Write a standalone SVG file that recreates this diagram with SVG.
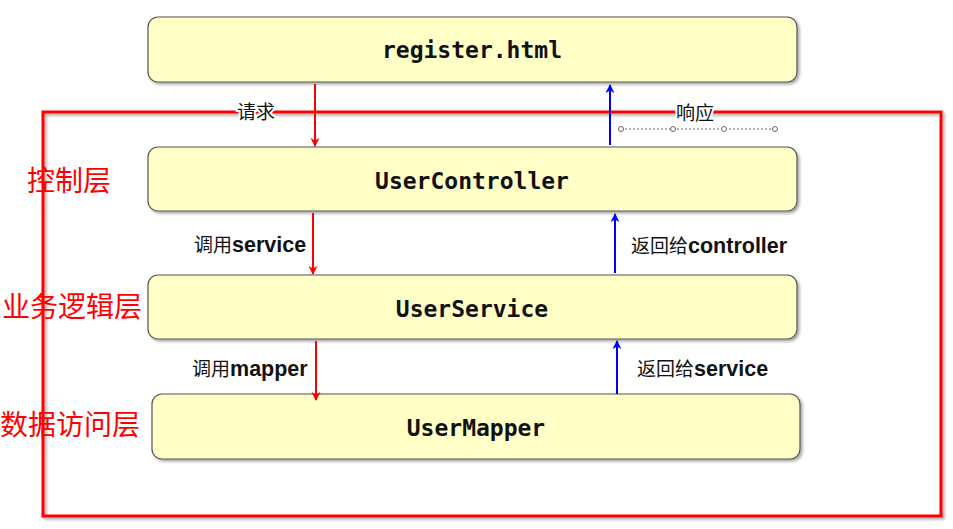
<svg xmlns="http://www.w3.org/2000/svg" width="953" height="529" viewBox="0 0 953 529">
<defs>
<filter id="sh" x="-5%" y="-5%" width="110%" height="120%">
<feGaussianBlur in="SourceAlpha" stdDeviation="1.5"/>
<feOffset dx="2" dy="2" result="b"/>
<feComponentTransfer><feFuncA type="linear" slope="0.35"/></feComponentTransfer>
<feMerge><feMergeNode/><feMergeNode in="SourceGraphic"/></feMerge>
</filter>
<marker id="ar" markerWidth="9" markerHeight="12" refX="9" refY="5" orient="auto" markerUnits="userSpaceOnUse" viewBox="0 0 10 10">
<path d="M0,0 L10,5 L0,10 L3,5 z" fill="#ff0000"/>
</marker>
<marker id="ab" markerWidth="9" markerHeight="12" refX="9" refY="5" orient="auto" markerUnits="userSpaceOnUse" viewBox="0 0 10 10">
<path d="M0,0 L10,5 L0,10 L3,5 z" fill="#0000ff"/>
</marker>
<style>
.box{fill:#ffffc6;stroke:#555;stroke-width:1.2;}
.nt{font-family:"DejaVu Sans Mono","Liberation Mono",monospace;font-size:23px;font-weight:bold;fill:#111;text-anchor:middle;}
.lay{font-family:"Noto Sans CJK SC",sans-serif;font-size:28px;fill:#ff0000;}
.lb{font-family:"Liberation Sans","Noto Sans CJK SC",sans-serif;font-size:21.5px;font-weight:bold;fill:#111;}
.cj{font-family:"Noto Sans CJK SC",sans-serif;font-weight:normal;font-size:19px;}
.rl{stroke:#ff0000;stroke-width:2;fill:none;}
.bl{stroke:#0000ff;stroke-width:2;fill:none;}
.halo{stroke:#fff;stroke-width:4;paint-order:stroke;}
</style>
</defs>
<rect x="0" y="0" width="953" height="529" fill="#ffffff"/>
<g id="frame">
<rect x="43" y="112" width="898" height="404" fill="none" stroke="#ff0000" stroke-width="3" filter="url(#sh)"/>
</g>
<g id="layers">
<text class="lay" x="27" y="191">控制层</text>
<text class="lay" x="2" y="317">业务逻辑层</text>
<text class="lay" x="0" y="435">数据访问层</text>
</g>
<g id="register">
<rect class="box" x="148" y="17" width="649" height="65" rx="10" filter="url(#sh)"/>
<text class="nt" x="472" y="58">register.html</text>
</g>
<g id="controller">
<rect class="box" x="148" y="147" width="649" height="64" rx="10" filter="url(#sh)"/>
<text class="nt" x="472" y="189">UserController</text>
</g>
<g id="service">
<rect class="box" x="148" y="275" width="649" height="64" rx="10" filter="url(#sh)"/>
<text class="nt" x="472" y="317">UserService</text>
</g>
<g id="mapper">
<rect class="box" x="152" y="394" width="648" height="65" rx="10" filter="url(#sh)"/>
<text class="nt" x="476" y="436">UserMapper</text>
</g>
<g id="connectors">
<line class="rl" x1="315" y1="84" x2="315" y2="146" marker-end="url(#ar)"/>
<line class="bl" x1="610" y1="145" x2="610" y2="85" marker-end="url(#ab)"/>
<line class="rl" x1="313" y1="213" x2="313" y2="274" marker-end="url(#ar)"/>
<line class="bl" x1="615" y1="273" x2="615" y2="214" marker-end="url(#ab)"/>
<line class="rl" x1="316" y1="341" x2="316" y2="400" marker-end="url(#ar)"/>
<line class="bl" x1="617" y1="394" x2="617" y2="341" marker-end="url(#ab)"/>
<g id="dots" stroke="#666" fill="#fff" stroke-width="1">
<line x1="621" y1="129" x2="775" y2="129" stroke-dasharray="2,2"/>
<circle cx="621" cy="129" r="2.5"/>
<circle cx="673" cy="129" r="2.5"/>
<circle cx="724" cy="129" r="2.5"/>
<circle cx="775" cy="129" r="2.5"/>
</g>
</g>
<g id="labels">
<text class="lb halo" x="237" y="119"><tspan class="cj" font-size="21">请求</tspan></text>
<text class="lb halo" x="676" y="120"><tspan class="cj" font-size="21">响应</tspan></text>
<text class="lb" x="194" y="252"><tspan class="cj">调用</tspan>service</text>
<text class="lb" x="631" y="253"><tspan class="cj">返回给</tspan>controller</text>
<text class="lb" x="192" y="376"><tspan class="cj">调用</tspan>mapper</text>
<text class="lb" x="637" y="376"><tspan class="cj">返回给</tspan>service</text>
</g>
</svg>
